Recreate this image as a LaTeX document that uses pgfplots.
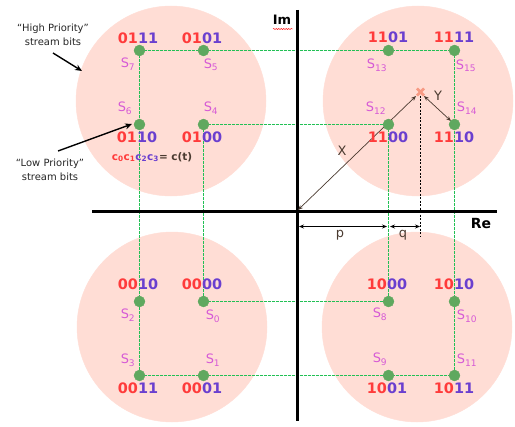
\documentclass[border=0pt]{standalone}
\usepackage{fontspec}
\setmainfont{DejaVu Sans}
\usepackage{pgfplots}
\pgfplotsset{compat=1.18}
\usepackage{pgfplotstable}
\usetikzlibrary{arrows.meta,decorations.pathmorphing}

\definecolor{disk}{HTML}{FFDDD5}
\definecolor{dot}{HTML}{5FA85F}
\definecolor{hp}{HTML}{FF3B3B}
\definecolor{lp}{HTML}{6A3FCF}
\definecolor{slab}{HTML}{D65AD6}
\definecolor{gridg}{HTML}{22C055}
\definecolor{xmk}{HTML}{F79A84}
\definecolor{vec}{HTML}{4A3A30}

\newcommand{\bits}[2]{\bfseries\textcolor{hp}{#1}\textcolor{lp}{#2}}
\newcommand{\sym}[1]{\textcolor{slab}{S\textsubscript{#1}}}
\tikzset{
    bitfont/.style={font=\fontsize{14.5}{14.5}\selectfont},
    symfont/.style={font=\fontsize{13}{13}\selectfont},
    guide/.style={color=gridg, line width=1bp, dash pattern=on 3bp off 1bp},
}

% pixel positions of the 16 symbols (y measured downwards)
\pgfplotstableread{
x y
139.5 50.5
203.5 50.5
139.5 124.5
203.5 124.5
388.5 50.5
454.5 50.5
388.5 124.5
454.5 124.5
139.5 301.5
203.5 301.5
139.5 375.5
203.5 375.5
388.5 301.5
454.5 301.5
388.5 375.5
454.5 375.5
}\symbols

% centres of the four clouds
\pgfplotstableread{
x y
171 101
418 101
172 327
417 327
}\clouds

\begin{document}
\begin{tikzpicture}
\begin{axis}[
    x=1bp, y=1bp,
    xmin=0, xmax=515, ymin=0, ymax=426,
    y dir=reverse,
    hide axis,
    clip=false,
    set layers,
    every node/.append style={inner sep=0pt},
]
\addplot[draw=none] coordinates {(0,0) (515,426)};

% clouds
\addplot[disk, on layer=axis background, mark layer=axis background,
    only marks, mark=*, mark size=95bp, mark options={fill=disk, draw=disk}] table {\clouds};

% green dashed guides
\addplot[guide] coordinates {(139.5,50.5) (454.5,50.5)};
\addplot[guide] coordinates {(139.5,50.5) (139.5,375.5)};
\addplot[guide] coordinates {(203.5,124.5) (203.5,301.5)};
\addplot[guide] coordinates {(203.5,124.5) (388.5,124.5)};
\addplot[guide] coordinates {(203.5,301.5) (388.5,301.5)};
\addplot[guide] coordinates {(139.5,375.5) (454.5,375.5)};
\addplot[guide] coordinates {(388.5,124.5) (388.5,301.5)};
\addplot[guide] coordinates {(454.5,50.5) (454.5,375.5)};

% black dashed drop from the received point
\addplot[black, line width=1bp, dash pattern=on 2bp off 1.5bp] coordinates {(420.5,92) (420.5,237)};

% Re / Im axes
\addplot[black, line width=3bp] coordinates {(92,211.5) (497,211.5)};
\addplot[black, line width=3bp] coordinates {(297.5,10) (297.5,421)};

% X and Y vectors
\addplot[vec, line width=0.7pt, {Stealth[length=5pt,width=4pt]}-{Stealth[length=5pt,width=4pt]}] coordinates {(298,210) (416,96)};
\addplot[vec, line width=0.7pt, {Stealth[length=5pt,width=4pt]}-{Stealth[length=5pt,width=4pt]}] coordinates {(424,96) (451,121)};

% p and q distances
\addplot[black, line width=0.8pt, {Stealth[length=5pt,width=4pt]}-{Stealth[length=5pt,width=4pt]}] coordinates {(299,226.5) (387,226.5)};
\addplot[black, line width=0.8pt, {Stealth[length=5pt,width=4pt]}-{Stealth[length=5pt,width=4pt]}] coordinates {(390,226.5) (420,226.5)};

% received point
\addplot[xmk, only marks, mark=x, mark size=5, line width=2.5pt] coordinates {(420.5,92)};

% symbols
\addplot[dot, only marks, mark=*, mark size=5.5, mark options={fill=dot, draw=dot}] table {\symbols};

% annotation arrows
\addplot[black, line width=1.4pt, -{Stealth[length=7pt,width=6pt]}] coordinates {(53,53) (82,71)};
\addplot[black, line width=1.4pt, -{Stealth[length=7pt,width=6pt]}] coordinates {(58,151) (132,124)};

% axis labels
\node[font=\bfseries\fontsize{13}{13}\selectfont] at (axis cs:282,20) {Im};
\draw[red, line width=0.5pt, decorate, decoration={snake, amplitude=0.5pt, segment length=2.5pt}] (axis cs:273,29) -- (axis cs:293,29);
\node[font=\bfseries\fontsize{14}{14}\selectfont] at (axis cs:481,224) {Re};
\node[font=\fontsize{13}{13}\selectfont, text=vec] at (axis cs:342,151) {X};
\node[font=\fontsize{13}{13}\selectfont, text=vec] at (axis cs:438,96) {Y};
\node[font=\fontsize{13}{13}\selectfont, text=vec] at (axis cs:340,235) {p};
\node[font=\fontsize{13}{13}\selectfont, text=vec] at (axis cs:403,235) {q};

% bit labels
\node[bitfont] at (axis cs:138,38) {\bits{01}{11}};
\node[bitfont] at (axis cs:202,38) {\bits{01}{01}};
\node[bitfont] at (axis cs:388,37) {\bits{11}{01}};
\node[bitfont] at (axis cs:454,37) {\bits{11}{11}};
\node[bitfont] at (axis cs:137,137) {\bits{01}{10}};
\node[bitfont] at (axis cs:202,137) {\bits{01}{00}};
\node[bitfont] at (axis cs:388,137) {\bits{11}{00}};
\node[bitfont] at (axis cs:454,137) {\bits{11}{10}};
\node[bitfont] at (axis cs:138,284) {\bits{00}{10}};
\node[bitfont] at (axis cs:202,284) {\bits{00}{00}};
\node[bitfont] at (axis cs:387,284) {\bits{10}{00}};
\node[bitfont] at (axis cs:454,284) {\bits{10}{10}};
\node[bitfont] at (axis cs:138,388) {\bits{00}{11}};
\node[bitfont] at (axis cs:202,388) {\bits{00}{01}};
\node[bitfont] at (axis cs:387,388) {\bits{10}{01}};
\node[bitfont] at (axis cs:454,388) {\bits{10}{11}};

% symbol names
\node[symfont] at (axis cs:128,64) {\sym{7}};
\node[symfont] at (axis cs:211,65) {\sym{5}};
\node[symfont] at (axis cs:125,108) {\sym{6}};
\node[symfont] at (axis cs:211,108) {\sym{4}};
\node[symfont] at (axis cs:377,65) {\sym{13}};
\node[symfont] at (axis cs:466,66) {\sym{15}};
\node[symfont] at (axis cs:376,108) {\sym{12}};
\node[symfont] at (axis cs:467,108) {\sym{14}};
\node[symfont] at (axis cs:128,315) {\sym{2}};
\node[symfont] at (axis cs:213,316) {\sym{0}};
\node[symfont] at (axis cs:128,360) {\sym{3}};
\node[symfont] at (axis cs:213,360) {\sym{1}};
\node[symfont] at (axis cs:380,314) {\sym{8}};
\node[symfont] at (axis cs:467,316) {\sym{10}};
\node[symfont] at (axis cs:380,359) {\sym{9}};
\node[symfont] at (axis cs:467,360) {\sym{11}};

% side notes
\node[align=center, text=black!85, font=\fontsize{10}{14}\selectfont] at (axis cs:53,35) {“High Priority”\\stream bits};
\node[align=center, text=black!85, font=\fontsize{10}{14}\selectfont] at (axis cs:50,170) {“Low Priority”\\stream bits};
\node[font=\bfseries\fontsize{10.5}{10.5}\selectfont] at (axis cs:152,157) {\textcolor{hp}{c\textsubscript{0}c\textsubscript{1}}\textcolor{lp}{c\textsubscript{2}c\textsubscript{3}}\textcolor{vec}{= c(t)}};
\end{axis}
\end{tikzpicture}
\end{document}
